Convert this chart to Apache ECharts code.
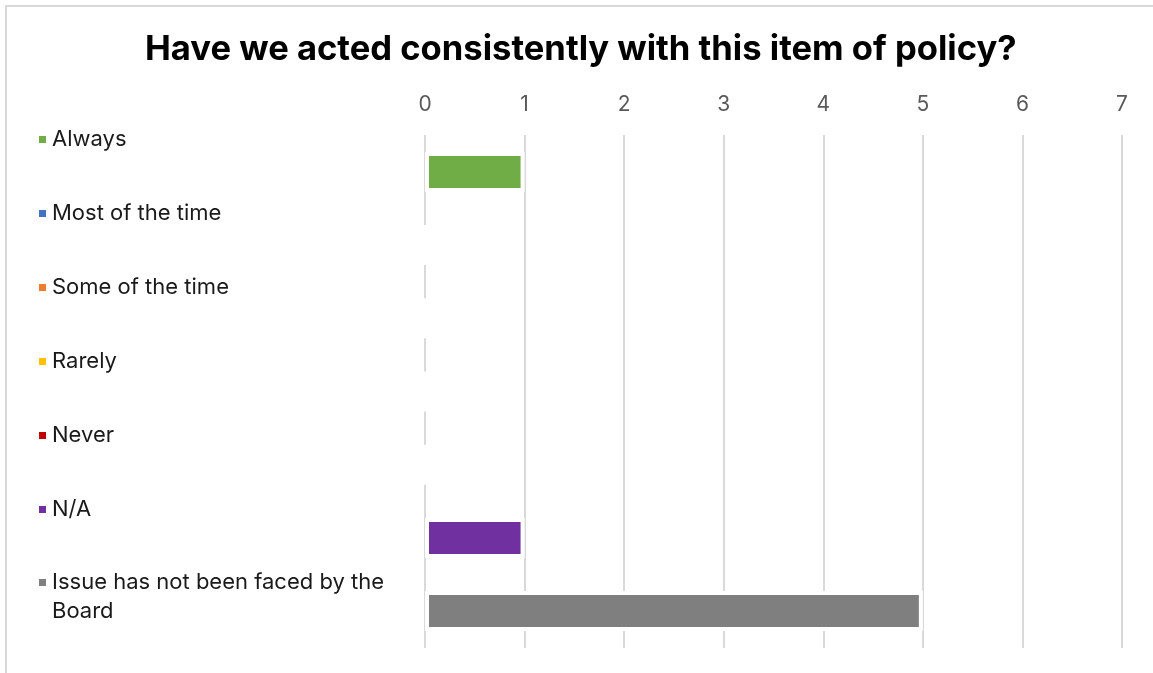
<!DOCTYPE html>
<html>
<head>
<meta charset="utf-8">
<script src="https://cdn.jsdelivr.net/npm/echarts@6/dist/echarts.min.js"></script>
<style>
  html, body { margin: 0; padding: 0; background: #fff; }
  #chart { width: 1153px; height: 673px; }
</style>
</head>
<body>
<div id="chart"></div>
<script>
// Responses to the policy question, one series per answer
const answers = ['Always', 'Most of the time', 'Some of the time', 'Rarely', 'Never', 'N/A', 'Issue has not been faced by the Board'];
const counts = [1, 0, 0, 0, 0, 1, 5];
const colors = ['#70AD47', '#4472C4', '#ED7D31', '#FFC000', '#C00000', '#7030A0', '#7F7F7F'];
const xTicks = [0, 1, 2, 3, 4, 5, 6, 7];

const FONT = 'Inter, "Noto Sans", sans-serif';
const LAST = answers.length - 1;

const chart = echarts.init(document.getElementById('chart'), null, { renderer: 'canvas' });

const series = answers.map((name, i) => ({
  name: name,
  type: 'bar',
  data: [counts[i]],
  barWidth: 40,
  barGap: '83%',
  itemStyle: { color: colors[i], borderColor: '#ffffff', borderWidth: 4 },
  emphasis: { disabled: true }
}));

const legendText = { fontFamily: FONT, fontSize: 22, color: '#1a1a1a', lineHeight: 29 };

chart.setOption({
  animation: false,
  backgroundColor: '#ffffff',
  title: {
    text: 'Have we acted consistently with this item of policy?',
    left: 145,
    top: 32,
    padding: 0,
    textStyle: { fontFamily: FONT, fontSize: 34.6, fontWeight: 'bold', color: '#000000' }
  },
  legend: [
    {
      orient: 'vertical',
      left: 32,
      top: 120,
      height: 500,
      itemWidth: 9,
      itemHeight: 9,
      itemGap: 45,
      icon: 'rect',
      data: answers.slice(0, LAST),
      selectedMode: false,
      textStyle: legendText
    },
    {
      // two-line entry: the marker sits at the top of a taller icon box so it lines up with the first line
      orient: 'vertical',
      left: 32,
      top: 563,
      itemWidth: 9,
      itemHeight: 38,
      icon: 'path://M0,0H9V9H0Z M0,38L9,38',
      data: [answers[LAST]],
      selectedMode: false,
      formatter: () => 'Issue has not been faced by the\nBoard',
      textStyle: legendText
    }
  ],
  grid: { left: 425, right: 31, top: 135, bottom: 25, containLabel: false },
  xAxis: {
    type: 'value',
    position: 'top',
    min: xTicks[0],
    max: xTicks[xTicks.length - 1],
    interval: 1,
    axisLine: { show: false },
    axisTick: { show: false },
    axisLabel: { margin: 20, fontFamily: FONT, fontSize: 21, color: '#595959' },
    splitLine: { lineStyle: { color: '#d9d9d9', width: 2 } }
  },
  yAxis: {
    type: 'category',
    data: [''],
    inverse: true,
    axisLine: { show: false },
    axisTick: { show: false },
    axisLabel: { show: false },
    splitLine: { show: false }
  },
  graphic: [{
    type: 'rect',
    silent: true,
    shape: { x: 6, y: 6, width: 1200, height: 720 },
    style: { fill: null, stroke: '#d9d9d9', lineWidth: 2 },
    z: 100
  }],
  series: series
});
</script>
</body>
</html>
